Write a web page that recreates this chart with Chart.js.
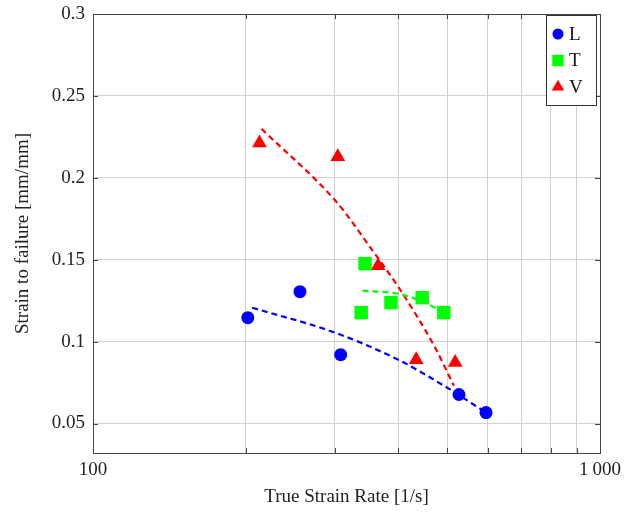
<!DOCTYPE html>
<html>
<head>
<meta charset="utf-8">
<script src="https://cdn.jsdelivr.net/npm/chart.js@4.4.0/dist/chart.umd.min.js"></script>
<style>
  body { margin: 0; background: #fff; }
</style>
</head>
<body>
<canvas id="myChart" width="632" height="516"></canvas>
<script>
// measured points (strain rate [1/s], strain to failure)
const lRate = [202, 256, 308, 527, 596];
const lStrain = [0.1146, 0.1305, 0.092, 0.0677, 0.0567];
const tRate = [338, 344, 387, 446, 492];
const tStrain = [0.1177, 0.1476, 0.1238, 0.1268, 0.1177];
const vRate = [213, 304, 365, 434, 518];
const vStrain = [0.2213, 0.2128, 0.1463, 0.089, 0.0872];

// dashed trend curves
const lFitRate = [206, 300, 403, 495, 596];
const lFitStrain = [0.1207, 0.1055, 0.0884, 0.0726, 0.0567];
const tFitRate = [340, 400, 427, 460, 492];
const tFitStrain = [0.1311, 0.1293, 0.1268, 0.1225, 0.118];
const vFitRate = [215, 303, 357, 400, 473, 515];
const vFitStrain = [0.2299, 0.1848, 0.155, 0.1335, 0.0963, 0.073];

const xTicks = [100, 200, 300, 400, 500, 600, 700, 800, 900, 1000];
const xTickLabels = ['100', '', '', '', '', '', '', '', '', '1\u2009000'];
const yTicks = [0.05, 0.1, 0.15, 0.2, 0.25, 0.3];
const yTickLabels = ['0.05', '0.1', '0.15', '0.2', '0.25', '0.3'];

const FONT = "'Liberation Serif', 'DejaVu Serif', serif";

const pts = (xs, ys) => xs.map((x, i) => ({x: x, y: ys[i]}));

// axis box + small inner tick marks
const frame = {
    id: 'frame',
    afterDatasetsDraw(chart) {
        const {ctx, chartArea: a, scales} = chart;
        ctx.save();
        ctx.strokeStyle = '#444';
        ctx.lineWidth = 1;
        ctx.beginPath();
        for (const v of yTicks) {
            const py = Math.round(scales.y.getPixelForValue(v)) + 0.5;
            ctx.moveTo(a.left, py); ctx.lineTo(a.left + 5, py);
            ctx.moveTo(a.right, py); ctx.lineTo(a.right - 5, py);
        }
        for (const v of xTicks) {
            const px = Math.round(scales.x.getPixelForValue(v)) + 0.5;
            ctx.moveTo(px, a.bottom); ctx.lineTo(px, a.bottom - 5);
            ctx.moveTo(px, a.top); ctx.lineTo(px, a.top + 5);
        }
        ctx.stroke();
        ctx.strokeRect(a.left + 0.5, a.top + 0.5, a.right - a.left, a.bottom - a.top);
        ctx.restore();
    }
};

// legend box in the top right corner of the plot
const boxLegend = {
    id: 'boxLegend',
    afterDraw(chart) {
        const {ctx, chartArea: a} = chart;
        const items = chart.data.datasets.filter(d => d.inLegend);
        const w = 50, h = 90;
        const x0 = a.right - w - 4, y0 = a.top + 1;
        ctx.save();
        ctx.fillStyle = '#fff';
        ctx.fillRect(x0, y0, w, h);
        ctx.strokeStyle = '#333';
        ctx.lineWidth = 1;
        ctx.strokeRect(x0 + 0.5, y0 + 0.5, w, h);
        ctx.font = '19px ' + FONT;
        ctx.textBaseline = 'middle';
        items.forEach((d, i) => {
            const cy = y0 + 19 + i * 26.5;
            ctx.fillStyle = d.backgroundColor;
            ctx.strokeStyle = d.backgroundColor;
            Chart.helpers.drawPoint(ctx, {
                pointStyle: d.pointStyle, radius: d.pointRadius * 0.85,
                rotation: 0, borderWidth: 0
            }, x0 + 12, cy);
            ctx.fillStyle = '#111';
            ctx.fillText(d.label, x0 + 23, cy + 1);
        });
        ctx.restore();
    }
};

const scatter = (label, data, color, style, r) => ({
    type: 'scatter', label: label, data: data, inLegend: true,
    backgroundColor: color, borderColor: color, borderWidth: 0,
    pointStyle: style, pointRadius: r, pointHoverRadius: r
});
const fit = (data, color) => ({
    type: 'line', data: data, borderColor: color, borderWidth: 2.2,
    borderDash: [6, 4], pointRadius: 0, fill: false,
    cubicInterpolationMode: 'monotone'
});

new Chart(document.getElementById('myChart'), {
    type: 'scatter',
    data: {
        datasets: [
            scatter('L', pts(lRate, lStrain), '#0000ff', 'circle', 6.5),
            scatter('T', pts(tRate, tStrain), '#00ff00', 'rect', 9.5),
            scatter('V', pts(vRate, vStrain), '#ff0000', 'triangle', 8.5),
            fit(pts(lFitRate, lFitStrain), '#0000ff'),
            fit(pts(tFitRate, tFitStrain), '#00ff00'),
            fit(pts(vFitRate, vFitStrain), '#ff0000')
        ]
    },
    options: {
        responsive: false,
        animation: false,
        layout: {padding: {top: 14, right: 32, left: 0, bottom: 0}},
        plugins: {legend: {display: false}, tooltip: {enabled: false}},
        scales: {
            x: {
                type: 'logarithmic', min: 100, max: 1000,
                afterBuildTicks: s => { s.ticks = xTicks.map(v => ({value: v})); },
                afterFit: s => { s.height = 63; },
                grid: {color: '#d0d0d0', drawTicks: false},
                border: {display: false},
                ticks: {
                    autoSkip: false, maxRotation: 0, padding: 6, color: '#222',
                    font: {family: FONT, size: 19},
                    callback: (v, i) => xTickLabels[i]
                },
                title: {
                    display: true, text: 'True Strain Rate [1/s]', color: '#222',
                    font: {family: FONT, size: 19}, padding: {top: 0, bottom: 8}
                }
            },
            y: {
                min: 0.032, max: 0.3,
                afterBuildTicks: s => { s.ticks = yTicks.map(v => ({value: v})); },
                afterFit: s => { s.width = 93; s.paddingTop = 0; s.paddingBottom = 0; },
                grid: {color: '#d0d0d0', drawTicks: false},
                border: {display: false},
                ticks: {
                    padding: 8, color: '#222',
                    font: {family: FONT, size: 19},
                    callback: (v, i) => yTickLabels[i]
                },
                title: {
                    display: true, text: 'Strain to failure [mm/mm]', color: '#222',
                    font: {family: FONT, size: 19}, padding: {top: 12, bottom: 0}
                }
            }
        }
    },
    plugins: [frame, boxLegend]
});
</script>
</body>
</html>
